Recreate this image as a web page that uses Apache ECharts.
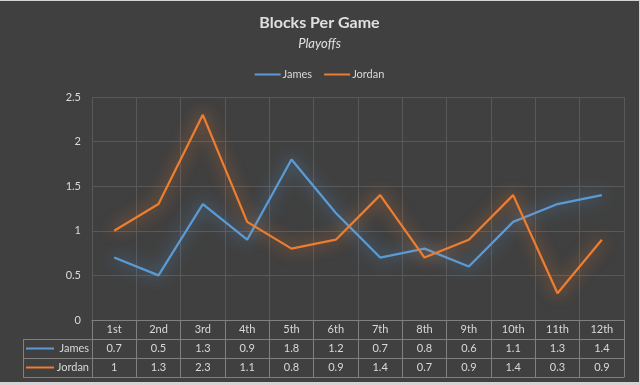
<!DOCTYPE html>
<html><head><meta charset="utf-8">
<script src="https://cdn.jsdelivr.net/npm/echarts@6/dist/echarts.min.js"></script>
<style>html,body{margin:0;padding:0;background:#d4d4d4;overflow:hidden}#c{position:absolute;left:0;top:1px;width:639px;height:381px}</style>
</head><body><div id="c"></div>
<script>
const categories = ['1st','2nd','3rd','4th','5th','6th','7th','8th','9th','10th','11th','12th'];
const seriesNames = ['James','Jordan'];
const james = [0.7,0.5,1.3,0.9,1.8,1.2,0.7,0.8,0.6,1.1,1.3,1.4];
const jordan = [1,1.3,2.3,1.1,0.8,0.9,1.4,0.7,0.9,1.4,0.3,0.9];
const colors = ['#5b9bd5','#ed7d31'];

const FONT = 'Lato, "Open Sans", sans-serif';
const TXT = '#d9d9d9';
const BORDER = '#808080';
const GRIDC = '#595959';
const W = 639, H = 381;
const gridLeft = 92, gridRight = 15, gridTop = 96, plotBottom = 319;
const rowH = 19, tableLeft = 23;

const chart = echarts.init(document.getElementById('c'));
const tableAxis = (vals, k, showLabel) => ({
  type: 'category', data: vals.map(v => String(v)), position: 'bottom', offset: rowH * k,
  axisLine: { show: true, lineStyle: { color: BORDER, width: 1 } },
  axisTick: { show: false }, splitLine: { show: false },
  axisLabel: { show: showLabel, color: TXT, fontSize: 11, fontFamily: FONT, margin: 4, interval: 0 }
});

const graphics = [];
for (let k = 1; k <= 3; k++) {
  graphics.push({ type: 'line', shape: { x1: tableLeft, y1: plotBottom + rowH * k + 0.5, x2: gridLeft, y2: plotBottom + rowH * k + 0.5 }, style: { stroke: BORDER, lineWidth: 1 } });
}
graphics.push({ type: 'line', shape: { x1: tableLeft + 0.5, y1: plotBottom + rowH, x2: tableLeft + 0.5, y2: plotBottom + rowH * 3 }, style: { stroke: BORDER, lineWidth: 1 } });
seriesNames.forEach((n, i) => {
  const cy = plotBottom + rowH * (i + 1) + rowH / 2;
  graphics.push({ type: 'line', shape: { x1: tableLeft + 3, y1: cy, x2: tableLeft + 31, y2: cy }, style: { stroke: colors[i], lineWidth: 2 } });
  graphics.push({ type: 'text', x: gridLeft - 3, y: cy, style: { text: n, fill: TXT, font: '11px ' + FONT, align: 'right', verticalAlign: 'middle' } });
});

chart.setOption({
  backgroundColor: '#404040',
  animation: false,
  title: {
    text: 'Blocks Per Game', subtext: 'Playoffs', left: 'center', top: 9, itemGap: 6,
    textStyle: { color: '#e0e0e0', fontSize: 16, fontWeight: 'bold', fontFamily: FONT },
    subtextStyle: { color: '#e0e0e0', fontSize: 13, fontStyle: 'italic', fontFamily: FONT }
  },
  legend: {
    data: seriesNames, top: 63, left: 'center', icon: 'rect', itemWidth: 26, itemHeight: 2, itemGap: 12,
    textStyle: { color: TXT, fontSize: 11, fontFamily: FONT, padding: [0, 0, 0, -3] }
  },
  grid: { left: gridLeft, right: gridRight, top: gridTop, bottom: H - plotBottom, containLabel: false },
  xAxis: [
    {
      type: 'category', data: categories, position: 'bottom', boundaryGap: true,
      axisLine: { show: true, lineStyle: { color: BORDER, width: 1 } },
      axisTick: { show: true, length: rowH * 3, lineStyle: { color: BORDER }, interval: 0 },
      splitLine: { show: true, interval: 0, lineStyle: { color: GRIDC, width: 1 } },
      axisLabel: { color: TXT, fontSize: 11, fontFamily: FONT, margin: 4, interval: 0 }
    },
    tableAxis(james, 1, true),
    tableAxis(jordan, 2, true),
    tableAxis(james, 3, false)
  ],
  yAxis: {
    type: 'value', min: 0, max: 2.5, interval: 0.5,
    axisLine: { show: false }, axisTick: { show: false },
    splitLine: { lineStyle: { color: GRIDC, width: 1 } },
    axisLabel: { color: TXT, fontSize: 11, fontFamily: FONT, margin: 11 }
  },
  series: [
    { name: 'James', type: 'line', data: james, xAxisIndex: 0, symbol: 'none', color: colors[0],
      lineStyle: { width: 2.25, color: colors[0], shadowBlur: 16, shadowColor: 'rgba(91,155,213,1)' } },
    { name: 'Jordan', type: 'line', data: jordan, xAxisIndex: 0, symbol: 'none', color: colors[1],
      lineStyle: { width: 2.25, color: colors[1], shadowBlur: 16, shadowColor: 'rgba(237,125,49,1)' } }
  ],
  graphic: graphics
});
</script></body></html>
